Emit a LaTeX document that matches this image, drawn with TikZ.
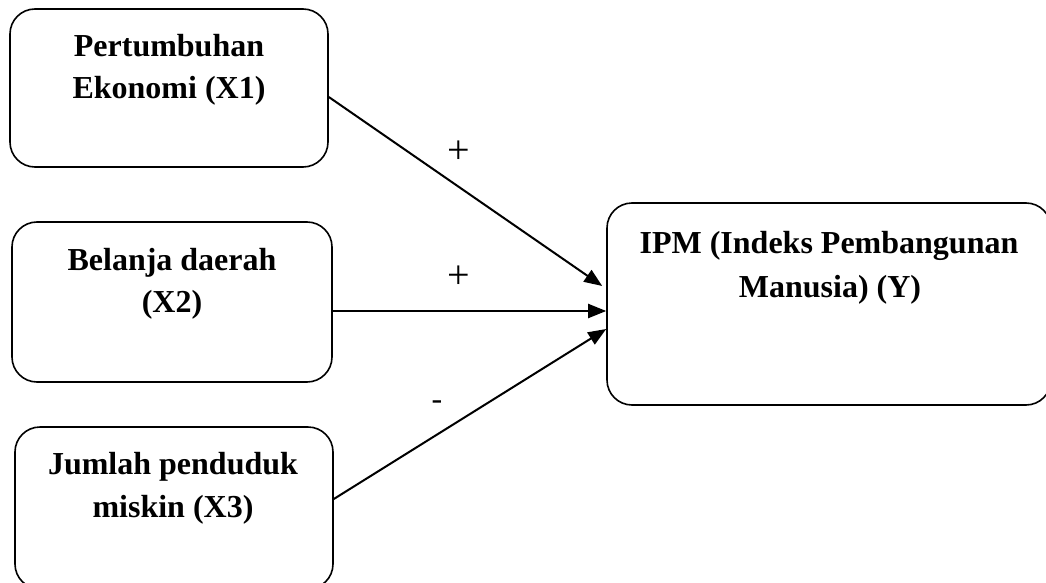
\documentclass[tikz,border=0pt]{standalone}
\usepackage{fontspec}
\setmainfont{Liberation Serif}
\usepackage{tikz}
\usetikzlibrary{arrows.meta}
\usetikzlibrary{positioning}
\tikzstyle{arrow}= [line width=2pt, -{Triangle[length=18pt,width=14pt]}]

\begin{document}
\begin{tikzpicture}[
		x=1pt,y=-1pt,
    varbox/.style={
    draw,line width=1.6pt,rounded corners=25pt,inner sep=0pt,
    },
    boxtext/.style={
    anchor=base,inner sep=0pt,font=\fontsize{32}{42}\selectfont\bfseries,
    },
    sign/.style={
    inner sep=0pt,font=\fontsize{40}{48}\selectfont,
    }
	]
  \clip (0,0) rectangle (1046,583);

  \node[varbox,minimum width=318pt,minimum height=158pt] (x1) at (169,88) {};
  \node[varbox,minimum width=320pt,minimum height=160pt] (x2) at (172,302) {};
  \node[varbox,minimum width=318pt,minimum height=162pt] (x3) at (174,508) {};
  \node[varbox,minimum width=444pt,minimum height=202pt] (ipm) at (829,304) {};

  \node[boxtext] (x1a) at (169,57) {Pertumbuhan};
  \node[boxtext] (x1b) at (169,99) {Ekonomi (X1)};
  \node[boxtext] (x2a) at (172,270) {Belanja daerah};
  \node[boxtext] (x2b) at (172,312) {(X2)};
  \node[boxtext] (x3a) at (173,474) {Jumlah penduduk};
  \node[boxtext] (x3b) at (173,517) {miskin (X3)};
  \node[boxtext] (ipma) at (829,253) {IPM (Indeks Pembangunan};
  \node[boxtext] (ipmb) at (830,297) {Manusia) (Y)};

  \draw[arrow] ([yshift=-9pt]x1.east) -- ([xshift=-4pt,yshift=18pt]ipm.west);
  \draw[arrow] ([yshift=-9pt]x2.east) -- ([yshift=-7pt]ipm.west);
  \draw[arrow] ([yshift=9pt]x3.east) -- ([yshift=-25pt]ipm.west);

  \node[sign] (s1) at (459,152) {+};
  \node[sign] (s2) at (459,277) {+};
  \node[sign,anchor=base,font=\fontsize{32}{40}\selectfont] (s3) at (437,409) {-};
\end{tikzpicture}
\end{document}
